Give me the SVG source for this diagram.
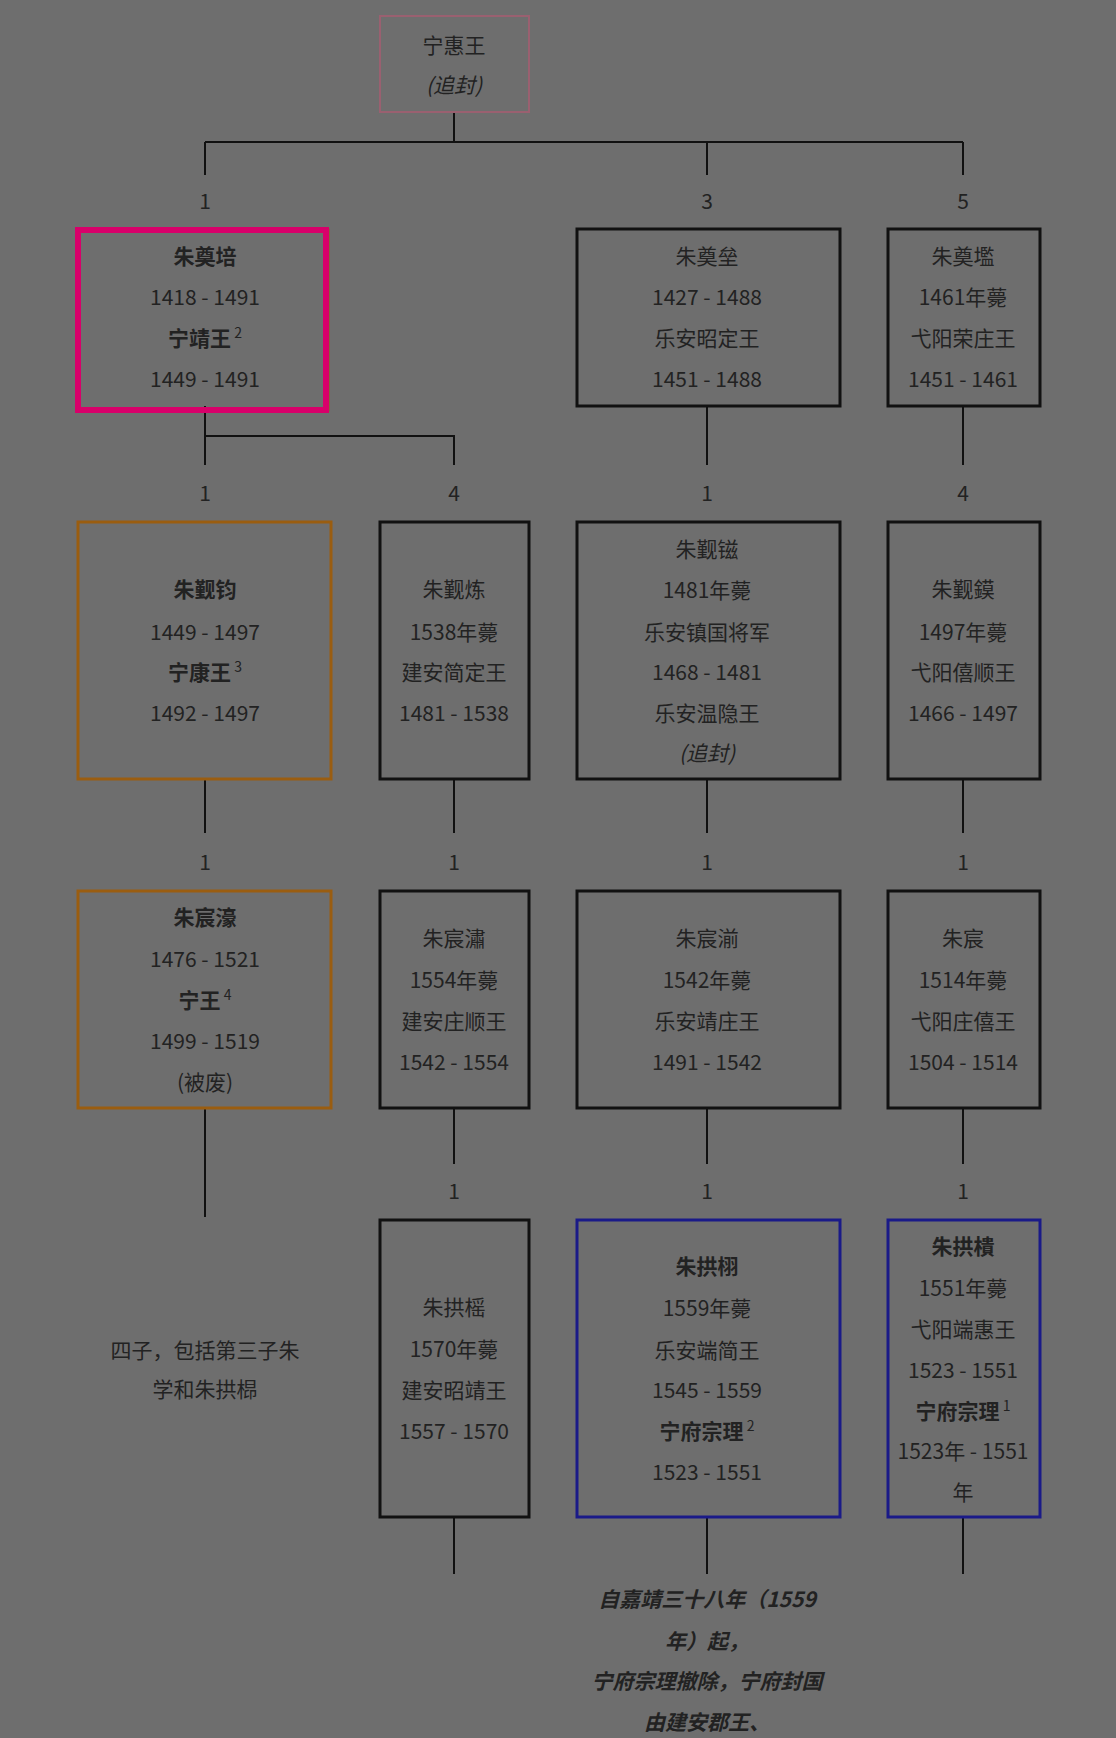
<svg xmlns="http://www.w3.org/2000/svg" width="1116" height="1738" viewBox="0 0 1116 1738">
<style>
text{font-family:"Noto Sans CJK SC","Noto Sans",sans-serif;font-size:21px;fill:#222;text-anchor:middle}
.b{font-weight:bold}.i{font-style:italic}
.bx{fill:none;stroke:#111;stroke-width:3}
.or{fill:none;stroke:#9a5d10;stroke-width:3}
.bl{fill:none;stroke:#1a1a88;stroke-width:3}
.ln{stroke:#111;stroke-width:2;fill:none}
sup,.s{font-size:14px}
</style>
<rect width="1116" height="1738" fill="#6e6e6e"/>
<g id="connectors">
<path class="ln" d="M454 112V142M205 142H963M205 142V175M707 142V175M963 142V175"/>
<path class="ln" d="M205 406V465M205 436H454V465M707 406V465M963 406V465"/>
<path class="ln" d="M205 779V833M454 779V833M707 779V833M963 779V833"/>
<path class="ln" d="M205 1108V1217M454 1108V1164M707 1108V1164M963 1108V1164"/>
<path class="ln" d="M454 1517V1574M707 1517V1574M963 1517V1574"/>
</g>
<g id="labels">
<text x="205" y="209">1</text><text x="707" y="209">3</text><text x="963" y="209">5</text>
<text x="205" y="501">1</text><text x="454" y="501">4</text><text x="707" y="501">1</text><text x="963" y="501">4</text>
<text x="205" y="870">1</text><text x="454" y="870">1</text><text x="707" y="870">1</text><text x="963" y="870">1</text>
<text x="454" y="1199">1</text><text x="707" y="1199">1</text><text x="963" y="1199">1</text>
</g>
<g id="root"><rect x="380" y="16" width="149" height="96" fill="none" stroke="#9a6070" stroke-width="2"/>
<text x="454" y="53">宁惠王</text><text x="454" y="93" class="i">(追封)</text></g>
<g id="n1"><rect x="78" y="230" width="250" height="180" fill="none" stroke="#9a5d10" stroke-width="3"/><rect x="78" y="230" width="248" height="180" fill="none" stroke="#d8006a" stroke-width="6"/>
<text x="205" y="264" class="b">朱奠培</text><text x="205" y="305">1418 - 1491</text><text x="205" y="346"><tspan class="b">宁靖王</tspan><tspan class="s" dy="-8"> 2</tspan></text><text x="205" y="387">1449 - 1491</text></g>
<g id="n3"><rect class="bx" x="577" y="229" width="263" height="177"/>
<text x="707" y="264">朱奠垒</text><text x="707" y="305">1427 - 1488</text><text x="707" y="346">乐安昭定王</text><text x="707" y="387">1451 - 1488</text></g>
<g id="n5"><rect class="bx" x="888" y="229" width="152" height="177"/>
<text x="963" y="264">朱奠壏</text><text x="963" y="305">1461年薨</text><text x="963" y="346">弋阳荣庄王</text><text x="963" y="387">1451 - 1461</text></g>
<g id="n11"><rect class="or" x="78" y="522" width="253" height="257"/>
<text x="205" y="597" class="b">朱觐钧</text><text x="205" y="640">1449 - 1497</text><text x="205" y="680"><tspan class="b">宁康王</tspan><tspan class="s" dy="-8"> 3</tspan></text><text x="205" y="721">1492 - 1497</text></g>
<g id="n14"><rect class="bx" x="380" y="522" width="149" height="257"/>
<text x="454" y="597">朱觐炼</text><text x="454" y="640">1538年薨</text><text x="454" y="680">建安简定王</text><text x="454" y="721">1481 - 1538</text></g>
<g id="n31"><rect class="bx" x="577" y="522" width="263" height="257"/>
<text x="707" y="557">朱觐镃</text><text x="707" y="598">1481年薨</text><text x="707" y="640">乐安镇国将军</text><text x="707" y="680">1468 - 1481</text><text x="707" y="721">乐安温隐王</text><text x="707" y="761" class="i">(追封)</text></g>
<g id="n54"><rect class="bx" x="888" y="522" width="152" height="257"/>
<text x="963" y="597">朱觐鏌</text><text x="963" y="640">1497年薨</text><text x="963" y="680">弋阳僖顺王</text><text x="963" y="721">1466 - 1497</text></g>
<g id="n111"><rect class="or" x="78" y="891" width="253" height="217"/>
<text x="205" y="925" class="b">朱宸濠</text><text x="205" y="967">1476 - 1521</text><text x="205" y="1008"><tspan class="b">宁王</tspan><tspan class="s" dy="-8"> 4</tspan></text><text x="205" y="1049">1499 - 1519</text><text x="205" y="1090">(被废)</text></g>
<g id="n141"><rect class="bx" x="380" y="891" width="149" height="217"/>
<text x="454" y="946">朱宸潚</text><text x="454" y="988">1554年薨</text><text x="454" y="1029">建安庄顺王</text><text x="454" y="1070">1542 - 1554</text></g>
<g id="n311"><rect class="bx" x="577" y="891" width="263" height="217"/>
<text x="707" y="946">朱宸湔</text><text x="707" y="988">1542年薨</text><text x="707" y="1029">乐安靖庄王</text><text x="707" y="1070">1491 - 1542</text></g>
<g id="n541"><rect class="bx" x="888" y="891" width="152" height="217"/>
<text x="963" y="946">朱宸</text><text x="963" y="988">1514年薨</text><text x="963" y="1029">弋阳庄僖王</text><text x="963" y="1070">1504 - 1514</text></g>
<g id="n1111"><text x="205" y="1358">四子，包括第三子朱</text><text x="205" y="1397">学和朱拱㭿</text></g>
<g id="n1411"><rect class="bx" x="380" y="1220" width="149" height="297"/>
<text x="454" y="1315">朱拱榣</text><text x="454" y="1357">1570年薨</text><text x="454" y="1398">建安昭靖王</text><text x="454" y="1439">1557 - 1570</text></g>
<g id="n3111"><rect class="bl" x="577" y="1220" width="263" height="297"/>
<text x="707" y="1274" class="b">朱拱栩</text><text x="707" y="1316">1559年薨</text><text x="707" y="1358">乐安端简王</text><text x="707" y="1398">1545 - 1559</text><text x="707" y="1439"><tspan class="b">宁府宗理</tspan><tspan class="s" dy="-8"> 2</tspan></text><text x="707" y="1480">1523 - 1551</text></g>
<g id="n5411"><rect class="bl" x="888" y="1220" width="152" height="297"/>
<text x="963" y="1254" class="b">朱拱樻</text><text x="963" y="1296">1551年薨</text><text x="963" y="1337">弋阳端惠王</text><text x="963" y="1378">1523 - 1551</text><text x="963" y="1419"><tspan class="b">宁府宗理</tspan><tspan class="s" dy="-8"> 1</tspan></text><text x="963" y="1459">1523年 - 1551</text><text x="963" y="1500">年</text></g>
<g id="note" class="b i"><text x="707" y="1607" class="b i">自嘉靖三十八年（1559</text><text x="707" y="1649" class="b i">年）起，</text><text x="707" y="1689" class="b i">宁府宗理撤除，宁府封国</text><text x="707" y="1730" class="b i">由建安郡王、</text></g>
</svg>
